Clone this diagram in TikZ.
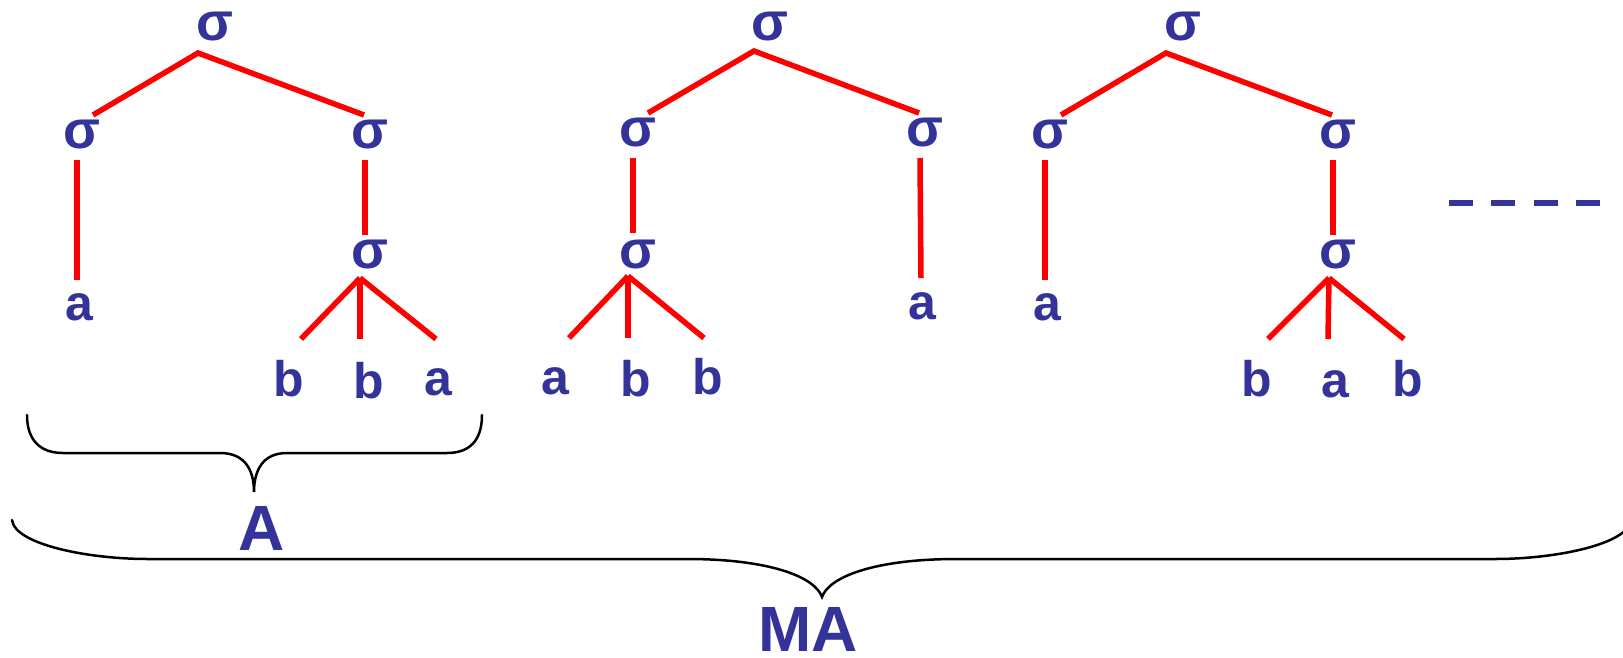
\documentclass[tikz,border=0pt]{standalone}
\usepackage{fontspec}
\setmainfont{Liberation Sans}
\definecolor{myblue}{RGB}{51,51,153}
\begin{document}
\begin{tikzpicture}[x=1pt,y=-1pt,
  sym/.style={inner sep=0pt, text=myblue, font=\fontsize{50}{58}\selectfont\bfseries},
  sig/.style={sym, font=\fontsize{54}{60}\selectfont\bfseries},
  big/.style={inner sep=0pt, text=myblue, font=\fontsize{64}{70}\selectfont\bfseries},
  edge/.style={draw=red, line width=5.5pt},
  bracestroke/.style={draw=black, line width=2.5pt, line cap=round},
  dots/.style={draw=myblue, line width=5.5pt, dash pattern=on 24pt off 18.33pt}]
\useasboundingbox (0,0) rectangle (1623,658);

% ---------- tree 1
\node[sig] (r1) at (215,27) {σ};
\node[sig] (l1) at (82,134) {σ};
\node[sig] (m1) at (370,134) {σ};
\node[sig] (v1) at (370,254) {σ};
\node[sym] (t1a) at (79,307) {a};
\node[sym] (t1b) at (289,379) {b};
\node[sym] (t1c) at (369,381) {b};
\node[sym] (t1d) at (438,382) {a};
\draw[edge] ([shift={(11,-19)}]l1.center) -- ([shift={(-17,26)}]r1.center) -- ([shift={(-6,-19)}]m1.center);
\draw[edge] ([shift={(-5,26)}]l1.center) -- ([shift={(-2,-27)}]t1a.center);
\draw[edge] ([shift={(-5,26)}]m1.center) -- ([shift={(-5,-19)}]v1.center);
\draw[edge] ([shift={(-10,24)}]v1.center) -- ([shift={(12,-40)}]t1b.center);
\draw[edge] ([shift={(-10,24)}]v1.center) -- ([shift={(-9,-42)}]t1c.center);
\draw[edge] ([shift={(-10,24)}]v1.center) -- ([shift={(-2,-43)}]t1d.center);

% ---------- tree 2
\node[sig] (r2) at (770,26.5) {σ};
\node[sig] (l2) at (638,132) {σ};
\node[sig] (m2) at (925,132) {σ};
\node[sig] (v2) at (638,254) {σ};
\node[sym] (t2r) at (922,306) {a};
\node[sym] (t2a) at (555,381) {a};
\node[sym] (t2b) at (636,379) {b};
\node[sym] (t2c) at (708,377) {b};
\draw[edge] ([shift={(10,-19)}]l2.center) -- ([shift={(-16,24.5)}]r2.center) -- ([shift={(-6,-19)}]m2.center);
\draw[edge] ([shift={(-5,26)}]l2.center) -- ([shift={(-5,-21)}]v2.center);
\draw[edge] ([shift={(-5,26)}]m2.center) -- ([shift={(-1,-28)}]t2r.center);
\draw[edge] ([shift={(-10,22)}]v2.center) -- ([shift={(14,-43)}]t2a.center);
\draw[edge] ([shift={(-10,22)}]v2.center) -- ([shift={(-8,-41)}]t2b.center);
\draw[edge] ([shift={(-10,22)}]v2.center) -- ([shift={(-4,-39)}]t2c.center);

% ---------- tree 3
\node[sig] (r3) at (1183,27) {σ};
\node[sig] (l3) at (1050,134) {σ};
\node[sig] (m3) at (1338,134) {σ};
\node[sig] (v3) at (1338,254) {σ};
\node[sym] (t3a) at (1047,307) {a};
\node[sym] (t3b) at (1257,379) {b};
\node[sym] (t3c) at (1335,384) {a};
\node[sym] (t3d) at (1408,379) {b};
\draw[edge] ([shift={(11,-19)}]l3.center) -- ([shift={(-17,26)}]r3.center) -- ([shift={(-6,-19)}]m3.center);
\draw[edge] ([shift={(-5,26)}]l3.center) -- ([shift={(-2,-27)}]t3a.center);
\draw[edge] ([shift={(-5,26)}]m3.center) -- ([shift={(-5,-19)}]v3.center);
\draw[edge] ([shift={(-9,24)}]v3.center) -- ([shift={(11,-40)}]t3b.center);
\draw[edge] ([shift={(-9,24)}]v3.center) -- ([shift={(-7,-45)}]t3c.center);
\draw[edge] ([shift={(-9,24)}]v3.center) -- ([shift={(-4,-40)}]t3d.center);

% ---------- continuation dashes
\draw[dots] (1449,203) -- (1600,203);

% ---------- brace A
\draw[bracestroke] (27,415) .. controls (27,440) and (40,453) .. (63,453) -- (220,453)
  .. controls (245,453) and (254,470) .. (254,492)
  .. controls (254,470) and (263,453) .. (287,453) -- (447,453)
  .. controls (470,453) and (482,440) .. (482,415);
\node[big] (lblA) at (262,528) {A};

% ---------- brace MA
\draw[bracestroke] (12,520) .. controls (15,545) and (90,559) .. (147,559) -- (687,559)
  .. controls (770,559) and (815,577) .. (822,597)
  .. controls (829,577) and (874,559) .. (957,559) -- (1496,559)
  .. controls (1553,559) and (1628,545) .. (1631,520);
\node[big] (lblMA) at (808,629.5) {MA};
\end{tikzpicture}
\end{document}
